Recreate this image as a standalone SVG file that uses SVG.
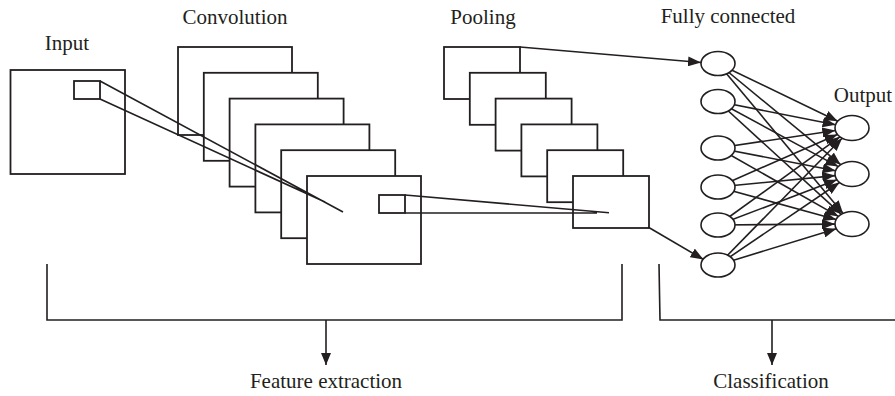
<svg xmlns="http://www.w3.org/2000/svg" width="895" height="396" viewBox="0 0 895 396">
<style>
.b{fill:#fff;stroke:#231f20;stroke-width:1.8}
.l{fill:none;stroke:#231f20;stroke-width:1.6}
.n{fill:#fff;stroke:#231f20;stroke-width:1.6}
.t{font-family:"Liberation Serif","Times New Roman",serif;font-size:21px;fill:#231f20;text-anchor:middle}
</style>
<defs>
<marker id="ah" markerWidth="13" markerHeight="10" refX="13" refY="5" orient="auto" markerUnits="userSpaceOnUse"><path d="M0,0 L13,5 L0,10 z" fill="#231f20"/></marker>
<marker id="ad" markerWidth="12" markerHeight="10" refX="12" refY="5" orient="auto" markerUnits="userSpaceOnUse"><path d="M0,0 L12,5 L0,10 z" fill="#231f20"/></marker>
</defs>
<rect width="895" height="396" fill="#fff"/>
<g id="labels" class="t">
<text x="67" y="50">Input</text>
<text x="235" y="24">Convolution</text>
<text x="483" y="24">Pooling</text>
<text x="728" y="23">Fully connected</text>
<text x="863" y="102">Output</text>
<text x="326" y="388">Feature extraction</text>
<text x="771" y="388">Classification</text>
</g>
<g id="input"><rect class="b" x="10.5" y="70" width="114.5" height="104"/><rect class="b" x="74" y="81" width="26" height="18"/></g>
<g id="conv1"><rect class="b" x="178" y="47" width="114" height="88"/></g>
<g id="conv2"><rect class="b" x="203.8" y="72.8" width="114" height="88"/></g>
<g id="conv3"><rect class="b" x="229.6" y="98.6" width="114" height="88"/></g>
<g id="conv4"><rect class="b" x="255.4" y="124.4" width="114" height="88"/></g>
<g id="conv5"><rect class="b" x="281.2" y="150.2" width="114" height="88"/></g>
<g id="conv6"><rect class="b" x="307" y="176" width="114" height="88"/><rect class="b" x="379" y="195" width="26" height="18"/></g>
<g id="pool1"><rect class="b" x="444" y="47" width="76" height="52"/></g>
<g id="pool2"><rect class="b" x="469.8" y="72.8" width="76" height="52"/></g>
<g id="pool3"><rect class="b" x="495.6" y="98.6" width="76" height="52"/></g>
<g id="pool4"><rect class="b" x="521.4" y="124.4" width="76" height="52"/></g>
<g id="pool5"><rect class="b" x="547.2" y="150.2" width="76" height="52"/></g>
<g id="pool6"><rect class="b" x="573" y="176" width="76" height="52"/></g>
<g id="connectors" class="l">
<path d="M100,81 L343,212 M100,99 L325,202"/>
<path d="M405,195 L609,212.7 M405,213 L597,213"/>
<path d="M520,47 L701,62.5" marker-end="url(#ah)"/>
<path d="M648,227 L703.5,259.5" marker-end="url(#ah)"/>
<path d="M718,63.5 L837.8,121.2" marker-end="url(#ah)"/>
<path d="M718,101.5 L835.6,124.8" marker-end="url(#ah)"/>
<path d="M718,148 L835.3,130.5" marker-end="url(#ah)"/>
<path d="M718,187 L837.4,134.4" marker-end="url(#ah)"/>
<path d="M718,225 L839.9,136.8" marker-end="url(#ah)"/>
<path d="M718,265 L842.1,138.2" marker-end="url(#ah)"/>
<path d="M718,63.5 L840.7,164.7" marker-end="url(#ah)"/>
<path d="M718,101.5 L838.3,166.6" marker-end="url(#ah)"/>
<path d="M718,148 L835.6,170.8" marker-end="url(#ah)"/>
<path d="M718,187 L835.2,175.6" marker-end="url(#ah)"/>
<path d="M718,225 L836.9,179.8" marker-end="url(#ah)"/>
<path d="M718,265 L839.5,182.5" marker-end="url(#ah)"/>
<path d="M718,63.5 L843.1,213.4" marker-end="url(#ah)"/>
<path d="M718,101.5 L841.4,214.3" marker-end="url(#ah)"/>
<path d="M718,148 L838.5,216.4" marker-end="url(#ah)"/>
<path d="M718,187 L836.1,219.6" marker-end="url(#ah)"/>
<path d="M718,225 L835,224.1" marker-end="url(#ah)"/>
<path d="M718,265 L836.3,228.8" marker-end="url(#ah)"/>
<path d="M47,264 L47,320 L622,320 L622,264"/>
<path d="M326,320 L326,365" marker-end="url(#ad)"/>
<path d="M659,264 L660,320 L895,320"/>
<path d="M772,320 L772,365" marker-end="url(#ad)"/>
</g>
<g id="fc1"><ellipse class="n" cx="718" cy="63.5" rx="17" ry="12"/></g>
<g id="fc2"><ellipse class="n" cx="718" cy="101.5" rx="17" ry="12"/></g>
<g id="fc3"><ellipse class="n" cx="718" cy="148" rx="17" ry="12"/></g>
<g id="fc4"><ellipse class="n" cx="718" cy="187" rx="17" ry="12"/></g>
<g id="fc5"><ellipse class="n" cx="718" cy="225" rx="17" ry="12"/></g>
<g id="fc6"><ellipse class="n" cx="718" cy="265" rx="17" ry="12"/></g>
<g id="out1"><ellipse class="n" cx="852" cy="128" rx="17" ry="12.5"/></g>
<g id="out2"><ellipse class="n" cx="852" cy="174" rx="17" ry="12.5"/></g>
<g id="out3"><ellipse class="n" cx="852" cy="224" rx="17" ry="12.5"/></g>
</svg>
